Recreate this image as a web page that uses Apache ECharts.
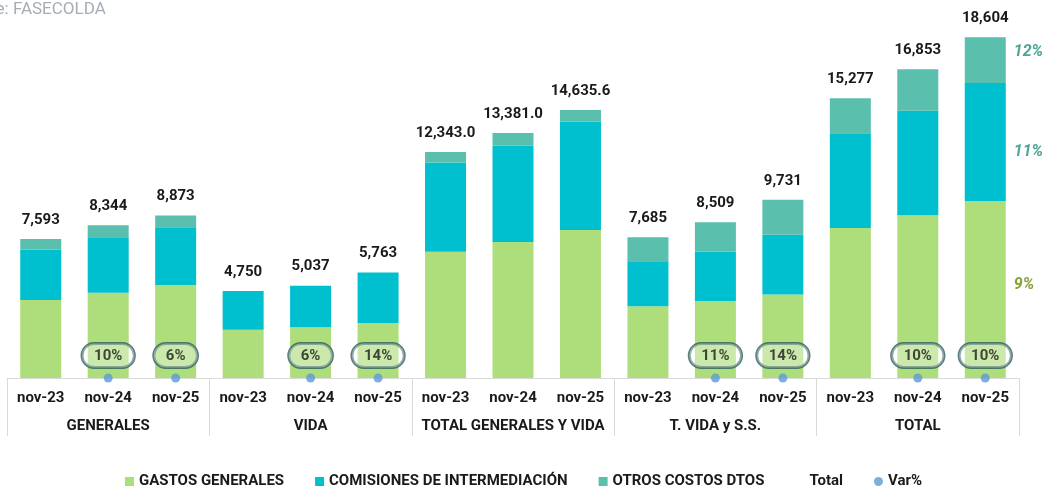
<!DOCTYPE html>
<html style="height: 100%;">
<head>
    <meta charset="UTF-8">
    <script src="https://cdn.jsdelivr.net/npm/echarts/dist/echarts.min.js"></script>
</head>
<body style="height: 100%; margin: 0; background: #fff;">
    <div id="chart" style="width: 1047px; height: 489px;"></div>

    <script type="text/javascript">
        // categorias: 3 cortes por cada grupo
        var periods = ['nov-23', 'nov-24', 'nov-25',
                       'nov-23', 'nov-24', 'nov-25',
                       'nov-23', 'nov-24', 'nov-25',
                       'nov-23', 'nov-24', 'nov-25',
                       'nov-23', 'nov-24', 'nov-25'];
        var groups = ['GENERALES', 'VIDA', 'TOTAL GENERALES Y VIDA', 'T. VIDA y S.S.', 'TOTAL'];

        var gastos     = [4260, 4650, 5072, 2638, 2770, 3005, 6898, 7420, 8077, 3916, 4208, 4555, 8190, 8880, 9665];
        var comisiones = [2750, 3000, 3163, 2112, 2267, 2758, 4862, 5267, 5921, 2420, 2695, 3265, 5175, 5710, 6445];
        var otros      = [583, 694, 638, 0, 0, 0, 583, 694, 638, 1349, 1606, 1911, 1912, 2263, 2494];

        var totals      = [7593, 8344, 8873, 4750, 5037, 5763, 12343.0, 13381.0, 14635.6, 7685, 8509, 9731, 15277, 16853, 18604];
        var totalLabels = ['7,593', '8,344', '8,873', '4,750', '5,037', '5,763', '12,343.0', '13,381.0', '14,635.6',
                           '7,685', '8,509', '9,731', '15,277', '16,853', '18,604'];

        var varPct = [null, '10%', '6%', null, '6%', '14%', null, null, null, null, '11%', '14%', null, '10%', '10%'];

        // variacion por componente del ultimo corte (TOTAL nov-25)
        var compVar = ['9%', '11%', '12%'];

        var chart = echarts.init(document.getElementById('chart'));

        var font = 'Roboto, "Noto Sans", sans-serif';
        var last = periods.length - 1;

        function withSideLabel(values, text, color, dy) {
            return values.map(function (v, i) {
                if (i !== last) return v;
                return {
                    value: v,
                    label: {
                        show: true,
                        position: 'right',
                        distance: 8,
                        offset: [0, dy],
                        formatter: text,
                        color: color,
                        fontStyle: 'italic',
                        fontWeight: 'bold',
                        fontSize: 16,
                        fontFamily: font
                    }
                };
            });
        }

        var varData = varPct.map(function (p) { return p === null ? '-' : 0; });

        var option = {
            animation: false,
            textStyle: { fontFamily: font },
            title: {
                text: 'Fuente: FASECOLDA',
                left: -47,
                top: 1,
                padding: 0,
                textStyle: { color: '#a5adb6', fontSize: 17, fontWeight: 'normal', fontFamily: font }
            },
            legend: {
                left: 'center',
                top: 469,
                itemWidth: 9,
                itemHeight: 9,
                itemGap: 31,
                textStyle: { color: '#1a1a1a', fontSize: 15, fontWeight: 'bold', fontFamily: font },
                data: [
                    { name: 'GASTOS GENERALES', icon: 'rect' },
                    { name: 'COMISIONES DE INTERMEDIACIÓN', icon: 'rect' },
                    { name: 'OTROS COSTOS DTOS', icon: 'rect' },
                    { name: 'Total', icon: 'rect', itemStyle: { opacity: 0 } },
                    { name: 'Var%', icon: 'circle' }
                ]
            },
            grid: {
                left: 7,
                right: 28,
                top: 11.7,
                bottom: 111
            },
            xAxis: [
                {
                    type: 'category',
                    data: periods,
                    axisLine: { lineStyle: { color: '#d9d9d9', width: 1 } },
                    axisTick: { show: false },
                    axisLabel: {
                        interval: 0,
                        margin: 13,
                        color: '#1a1a1a',
                        fontSize: 15,
                        fontWeight: 'bold',
                        fontFamily: font
                    }
                },
                {
                    type: 'category',
                    data: groups,
                    position: 'bottom',
                    axisLine: { show: false },
                    axisTick: { show: true, length: 58, lineStyle: { color: '#d9d9d9' } },
                    axisLabel: {
                        interval: 0,
                        margin: 41,
                        color: '#1a1a1a',
                        fontSize: 15,
                        fontWeight: 'bold',
                        fontFamily: font
                    }
                }
            ],
            yAxis: {
                type: 'value',
                min: 0,
                max: 20000,
                show: false
            },
            series: [
                {
                    name: 'GASTOS GENERALES',
                    type: 'bar',
                    stack: 'costos',
                    barWidth: 41,
                    itemStyle: { color: '#aedd7c' },
                    data: withSideLabel(gastos, compVar[0], '#86a23a', -4)
                },
                {
                    name: 'COMISIONES DE INTERMEDIACIÓN',
                    type: 'bar',
                    stack: 'costos',
                    barWidth: 41,
                    itemStyle: { color: '#00bfcf' },
                    data: withSideLabel(comisiones, compVar[1], '#4ea596', 10)
                },
                {
                    name: 'OTROS COSTOS DTOS',
                    type: 'bar',
                    stack: 'costos',
                    barWidth: 41,
                    itemStyle: { color: '#5bbfae' },
                    data: withSideLabel(otros, compVar[2], '#4ea596', -8)
                },
                {
                    name: 'Total',
                    type: 'line',
                    data: totals,
                    symbol: 'circle',
                    symbolSize: 1,
                    itemStyle: { color: 'rgba(0,0,0,0)' },
                    lineStyle: { opacity: 0 },
                    z: 5,
                    label: {
                        show: true,
                        position: 'top',
                        distance: 11,
                        color: '#1a1a1a',
                        fontSize: 15,
                        fontWeight: 'bold',
                        fontFamily: font,
                        formatter: function (p) { return totalLabels[p.dataIndex]; }
                    }
                },
                {
                    name: 'Var%',
                    type: 'scatter',
                    data: varData,
                    symbol: 'circle',
                    symbolSize: 9,
                    clip: false,
                    z: 6,
                    itemStyle: { color: '#5b9bd5' },
                    label: {
                        show: true,
                        position: 'top',
                        distance: 6,
                        color: '#1a1a1a',
                        fontSize: 15,
                        fontWeight: 'bold',
                        fontFamily: font,
                        backgroundColor: 'rgba(255,255,255,0.45)',
                        borderColor: '#2e5f5b',
                        borderWidth: 1.5,
                        borderRadius: 14,
                        padding: [5, 12, 4, 12],
                        formatter: function (p) { return varPct[p.dataIndex]; }
                    }
                }
            ]
        };

        chart.setOption(option);
        window.addEventListener('resize', chart.resize);
    </script>
</body>
</html>
